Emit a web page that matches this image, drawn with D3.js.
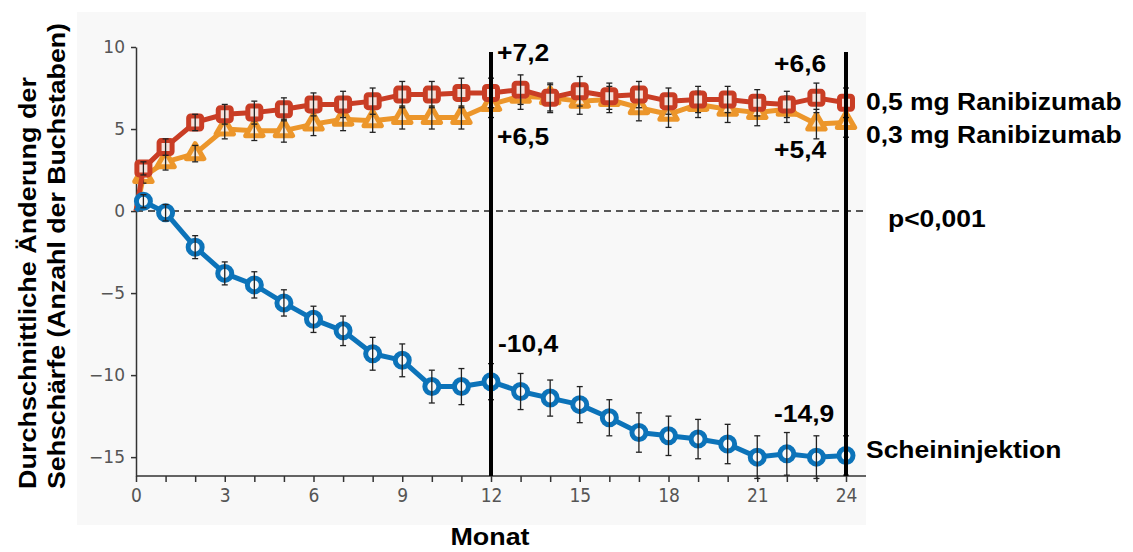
<!DOCTYPE html>
<html>
<head>
<meta charset="utf-8">
<script src="https://cdn.jsdelivr.net/npm/d3@7"></script>
<style>
  body { margin: 0; background: #fff; }
  svg { display: block; }
  .lbl { font-family: "Liberation Sans", Arial, sans-serif; font-weight: bold; font-size: 23px; fill: #000; }
</style>
</head>
<body>
<div id="chart-area"></div>
<script>
// Monate (erster Messpunkt nach 1 Woche)
var months = [0.25, 1, 2, 3, 4, 5, 6, 7, 8, 9, 10, 11, 12, 13, 14, 15, 16, 17, 18, 19, 20, 21, 22, 23, 24];

var rani05 = [2.6, 3.9, 5.4, 5.9, 6.0, 6.2, 6.5, 6.5, 6.7, 7.1, 7.1, 7.2, 7.2, 7.4, 6.9, 7.3, 7.0, 7.1, 6.7, 6.8, 6.8, 6.6, 6.5, 6.9, 6.6];
var rani03 = [2.1, 3.0, 3.5, 5.0, 4.9, 4.9, 5.3, 5.6, 5.5, 5.7, 5.7, 5.7, 6.5, 7.0, 6.9, 6.7, 6.8, 6.3, 5.9, 6.5, 6.2, 6.0, 6.2, 5.3, 5.4];
var sham   = [0.6, -0.1, -2.2, -3.8, -4.5, -5.6, -6.6, -7.3, -8.7, -9.1, -10.7, -10.7, -10.4, -11.0, -11.4, -11.8, -12.6, -13.5, -13.7, -13.9, -14.2, -15.0, -14.8, -15.0, -14.9];

var rani05Err = [0.4, 0.5, 0.5, 0.6, 0.7, 0.7, 0.7, 0.8, 0.8, 0.8, 0.8, 0.9, 0.9, 0.9, 0.9, 0.9, 0.8, 0.8, 0.8, 0.8, 0.8, 0.8, 0.8, 0.9, 0.9];
var rani03Err = [0.4, 0.5, 0.5, 0.6, 0.6, 0.7, 0.7, 0.7, 0.7, 0.7, 0.7, 0.7, 0.8, 0.8, 0.8, 0.8, 0.8, 0.8, 0.8, 0.8, 0.8, 0.8, 0.8, 0.9, 0.9];
var shamErr   = [0.4, 0.5, 0.7, 0.7, 0.8, 0.8, 0.8, 0.9, 1.0, 1.0, 1.0, 1.1, 1.1, 1.1, 1.1, 1.1, 1.1, 1.2, 1.2, 1.2, 1.2, 1.3, 1.3, 1.3, 1.2];

var yTicks = [-15, -10, -5, 0, 5, 10];
var xTicks = d3.range(0, 25);
var markedMonths = [12, 24];

var W = 1133, H = 552;

var svg = d3.select("#chart-area").append("svg")
    .attr("width", W)
    .attr("height", H);

// grauer Hintergrund
svg.append("rect")
    .attr("x", 77).attr("y", 12)
    .attr("width", 789).attr("height", 513)
    .attr("fill", "#f8f8f8");

var x = d3.scaleLinear().domain([0, 24]).range([136, 846]);
var y = d3.scaleLinear().domain([-16.15, 10]).range([476, 47]);

// Y Achse
var yAxis = svg.append("g")
    .attr("transform", "translate(" + x(0) + ",0)")
    .call(d3.axisLeft(y).tickValues(yTicks).tickSize(5).tickSizeOuter(0).tickPadding(6));
yAxis.select(".domain").attr("stroke", "#333").attr("stroke-width", 1.5);
yAxis.selectAll(".tick line").attr("stroke", "#333").attr("stroke-width", 1.5);
yAxis.selectAll("text")
    .attr("font-family", "DejaVu Sans, sans-serif")
    .attr("font-size", "17px")
    .attr("fill", "#555");

// X Achse
var xAxis = svg.append("g")
    .attr("transform", "translate(0," + y(-16.15) + ")")
    .call(d3.axisBottom(x).tickValues(xTicks).tickSize(6).tickSizeOuter(0).tickPadding(7)
        .tickFormat(function (d) { return d % 3 === 0 ? d : ""; }));
xAxis.select(".domain").remove();
xAxis.append("line")
    .attr("x1", x(0)).attr("x2", 866)
    .attr("stroke", "#333").attr("stroke-width", 1.5);
xAxis.selectAll(".tick line").attr("stroke", "#333").attr("stroke-width", 1.5);
xAxis.selectAll("text")
    .attr("font-family", "Liberation Sans Narrow, DejaVu Sans Condensed, sans-serif")
    .attr("font-size", "19px")
    .attr("fill", "#555");

// Nulllinie
svg.append("line")
    .attr("x1", x(0)).attr("x2", 866)
    .attr("y1", y(0)).attr("y2", y(0))
    .attr("stroke", "#222")
    .attr("stroke-width", 1.5)
    .attr("stroke-dasharray", "7,5");

var series = [
    { name: "rani03", values: rani03, err: rani03Err, color: "#ec962b", shape: "tri" },
    { name: "rani05", values: rani05, err: rani05Err, color: "#c93d25", shape: "sq" },
    { name: "sham",   values: sham,   err: shamErr,   color: "#0c73b9", shape: "circ" }
];

var line = d3.line()
    .x(function (d) { return x(d[0]); })
    .y(function (d) { return y(d[1]); });

series.forEach(function (s) {
    var pts = months.map(function (m, i) { return [m, s.values[i], s.err[i]]; });
    var g = svg.append("g");

    g.append("path")
        .datum([[0, 0]].concat(pts))
        .attr("d", line)
        .attr("fill", "none")
        .attr("stroke", s.color)
        .attr("stroke-width", 5)
        .attr("stroke-linejoin", "round");

    var mk = g.selectAll(".mk").data(pts).enter().append("g")
        .attr("transform", function (d) { return "translate(" + x(d[0]) + "," + y(d[1]) + ")"; });

    if (s.shape === "sq") {
        mk.append("rect")
            .attr("x", -6.5).attr("y", -6.5)
            .attr("width", 13).attr("height", 13)
            .attr("rx", 2)
            .attr("fill", "#f4e2dc")
            .attr("stroke", s.color).attr("stroke-width", 5);
    } else if (s.shape === "tri") {
        mk.append("path")
            .attr("d", d3.symbol().type(d3.symbolTriangle).size(130))
            .attr("fill", "#f8ead8")
            .attr("stroke", s.color).attr("stroke-width", 5)
            .attr("stroke-linejoin", "round");
    } else {
        mk.append("circle")
            .attr("r", 7)
            .attr("fill", "#f8f8f8")
            .attr("stroke", s.color).attr("stroke-width", 5);
    }

    // Fehlerbalken
    var eb = g.selectAll(".eb").data(pts).enter().append("g")
        .attr("stroke", "#222").attr("stroke-width", 1.3);
    eb.append("line")
        .attr("x1", function (d) { return x(d[0]); })
        .attr("x2", function (d) { return x(d[0]); })
        .attr("y1", function (d) { return y(d[1] - d[2]); })
        .attr("y2", function (d) { return y(d[1] + d[2]); });
    [1, -1].forEach(function (sign) {
        eb.append("line")
            .attr("x1", function (d) { return x(d[0]) - 3; })
            .attr("x2", function (d) { return x(d[0]) + 3; })
            .attr("y1", function (d) { return y(d[1] + sign * d[2]); })
            .attr("y2", function (d) { return y(d[1] + sign * d[2]); });
    });
});

// senkrechte Linien bei 12 und 24 Monaten
svg.selectAll(".vline").data(markedMonths).enter().append("line")
    .attr("x1", function (d) { return x(d); })
    .attr("x2", function (d) { return x(d); })
    .attr("y1", y(9.7))
    .attr("y2", y(-16.15))
    .attr("stroke", "#000")
    .attr("stroke-width", 4);

// Werte-Beschriftungen (Schrift im Original horizontal gestreckt)
var notes = [
    { t: "+7,2", x: 497, y: 61 },
    { t: "+6,5", x: 497, y: 145 },
    { t: "-10,4", x: 498, y: 352 },
    { t: "+6,6", x: 774, y: 72 },
    { t: "+5,4", x: 774, y: 158 },
    { t: "-14,9", x: 774, y: 422 },
    { t: "0,5 mg Ranibizumab", x: 866, y: 110 },
    { t: "0,3 mg Ranibizumab", x: 866, y: 143 },
    { t: "p<0,001", x: 888, y: 227 },
    { t: "Scheininjektion", x: 866, y: 458 }
];
svg.selectAll(".note").data(notes).enter().append("text")
    .attr("class", "lbl")
    .attr("transform", function (d) { return "translate(" + d.x + "," + d.y + ") scale(1.15,1)"; })
    .text(function (d) { return d.t; });

// Achsentitel
svg.append("text")
    .attr("class", "lbl")
    .style("font-size", "24px")
    .attr("transform", "translate(490,545) scale(1.12,1)")
    .attr("text-anchor", "middle")
    .text("Monat");

var yt = svg.append("text")
    .attr("class", "lbl")
    .style("font-size", "23px")
    .attr("transform", "translate(0,489) rotate(-90)");
yt.append("tspan").attr("x", 0).attr("y", 36)
    .attr("textLength", 412).attr("lengthAdjust", "spacingAndGlyphs")
    .text("Durchschnittliche Änderung der");
yt.append("tspan").attr("x", 0).attr("y", 65)
    .attr("textLength", 466).attr("lengthAdjust", "spacingAndGlyphs")
    .text("Sehschärfe (Anzahl der Buchstaben)");
</script>
</body>
</html>
